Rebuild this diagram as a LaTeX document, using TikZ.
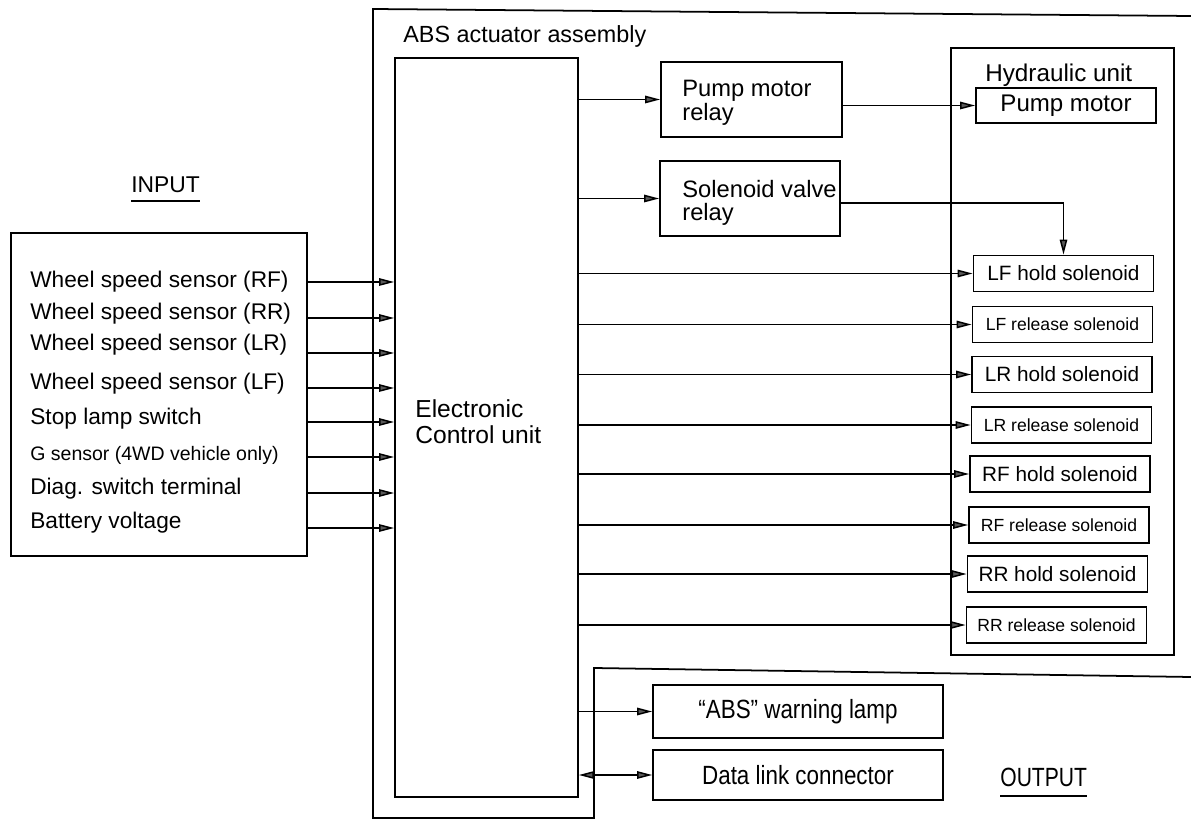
\documentclass[tikz,border=0pt]{standalone}
\usepackage{fontspec}
\usepackage{graphicx}
\setmainfont{Liberation Sans}
\usetikzlibrary{arrows.meta,calc}
\newcommand\fsz[1]{\fontsize{#1}{#1}\selectfont}
\begin{document}
\begin{tikzpicture}[x=0.02cm,y=-0.02cm,
  bx/.style={draw, line width=1pt, inner sep=0pt},
  sol/.style={bx, minimum width=3.6cm, minimum height=0.72cm},
  lbl/.style={inner sep=0pt},
  arr/.style={-{Triangle[length=8.5pt,width=4.2pt,fill=black!65]}, line width=0.85pt},
  darr/.style={{Triangle[length=8.5pt,width=4.2pt,fill=black!65]}-{Triangle[length=8.5pt,width=4.2pt,fill=black!65]}, line width=0.85pt}]
\useasboundingbox (0,0) rectangle (1191,824);

% outer assembly outline
\draw[line width=1pt] (1191,16) -- (373,9) -- (373,818) -- (594,818) -- (594,668) -- (1191,677);
\node[lbl, anchor=base west, font=\fsz{13.3}] (asm) at (403,43) {ABS actuator assembly};

% input
\node[lbl, anchor=base west, font=\fsz{13}] (inp) at (131,193) {INPUT};
\draw[line width=0.8pt] ($(inp.base west)+(0,8)$) -- ($(inp.base east)+(0,8)$);
\node[bx, minimum width=5.92cm, minimum height=6.46cm] (inbox) at (159,394.5) {};
\node[lbl, anchor=base west, font=\fsz{12.9}] (t1) at (30,288) {Wheel speed sensor (RF)};
\node[lbl, anchor=base west, font=\fsz{12.9}] (t2) at (30,320) {Wheel speed sensor (RR)};
\node[lbl, anchor=base west, font=\fsz{12.9}] (t3) at (30,351) {Wheel speed sensor (LR)};
\node[lbl, anchor=base west, font=\fsz{12.9}] (t4) at (30,390) {Wheel speed sensor (LF)};
\node[lbl, anchor=base west, font=\fsz{12.9}] (t5) at (30,424) {Stop lamp switch};
\node[lbl, anchor=base west, font=\fsz{11.1}] (t6) at (30,460) {G sensor (4WD vehicle only)};
\node[lbl, anchor=base west, font=\fsz{12.9}] (t7) at (30,495) {Diag. switch terminal};
\node[lbl, anchor=base west, font=\fsz{12.9}] (t8) at (30,528) {Battery voltage};

% ECU
\node[bx, minimum width=3.66cm, minimum height=14.78cm] (ecu) at (486.5,427.5) {};
\node[lbl, anchor=north west, align=left, font=\fontsize{14}{14.7}\selectfont] (ecut) at (415,399) {Electronic\\Control unit};

\coordinate (a1) at (0,282);
\coordinate (a2) at (0,318);
\coordinate (a3) at (0,353);
\coordinate (a4) at (0,388);
\coordinate (a5) at (0,422);
\coordinate (a6) at (0,457);
\coordinate (a7) at (0,493);
\coordinate (a8) at (0,528);
\foreach \i in {1,...,8} {
  \draw[arr] (inbox.east |- a\i) -- (ecu.west |- a\i);
}

% relays
\node[bx, minimum width=3.62cm, minimum height=1.5cm] (pmr) at (751.5,99.5) {};
\node[lbl, anchor=north west, align=left, font=\fontsize{13.5}{13.8}\selectfont] (pmrt) at (682,80) {Pump motor\\relay};
\node[bx, minimum width=3.6cm, minimum height=1.5cm] (svr) at (750,198.5) {};
\node[lbl, anchor=north west, align=left, font=\fontsize{13.5}{12.8}\selectfont] (svrt) at (682,180) {Solenoid valve\\relay};

% hydraulic unit
\node[bx, minimum width=4.46cm, minimum height=12.14cm] (hyd) at (1062.5,351.5) {};
\node[lbl, anchor=base west, font=\fsz{13.8}] (hydt) at (985,82) {Hydraulic unit};
\node[bx, minimum width=3.6cm, minimum height=0.7cm, font=\fsz{13.7}] (pm) at (1066,105.5) {Pump motor};

\node[sol, font=\fsz{11.8}] (lfh) at (1063.5,273.5) {LF hold solenoid};
\node[sol, font=\fsz{10}] (lfr) at (1062.5,324.5) {LF release solenoid};
\node[sol, font=\fsz{11.8}] (lrh) at (1062,374.5) {LR hold solenoid};
\node[sol, font=\fsz{10}] (lrr) at (1061.5,425) {LR release solenoid};
\node[sol, font=\fsz{11.8}] (rfh) at (1060,474) {RF hold solenoid};
\node[sol, font=\fsz{10}] (rfr) at (1059,525) {RF release solenoid};
\node[sol, font=\fsz{11.8}] (rrh) at (1057.5,574) {RR hold solenoid};
\node[sol, font=\fsz{10}] (rrr) at (1056.5,625) {RR release solenoid};

\draw[arr] (ecu.east |- pmr.west) -- (pmr.west);
\draw[arr] (ecu.east |- svr.west) -- (svr.west);
\draw[arr] (pmr.east |- pm.west) -- (pm.west);
\draw[arr] ([yshift=-2.5pt]svr.east) -| (lfh.north);
\foreach \n in {lfh,lfr,lrh,lrr,rfh,rfr,rrh,rrr} {
  \draw[arr] (ecu.east |- \n.west) -- (\n.west);
}

% outputs
\node[bx, minimum width=5.8cm, minimum height=1.06cm] (wl) at (798,711.5) {\fsz{15}\scalebox{0.85}[1]{``ABS'' warning lamp}};
\node[bx, minimum width=5.8cm, minimum height=1.0cm] (dl) at (798,775) {\fsz{15}\scalebox{0.85}[1]{Data link connector}};
\draw[arr] (ecu.east |- wl.west) -- (wl.west);
\draw[darr] (ecu.east |- dl.west) -- (dl.west);
\node[lbl, anchor=base west, font=\fsz{15}] (outp) at (1000,786) {\scalebox{0.8}[1]{OUTPUT}};
\draw[line width=0.8pt] ($(outp.base west)+(0,10)$) -- ($(outp.base east)+(0,10)$);
\end{tikzpicture}
\end{document}
